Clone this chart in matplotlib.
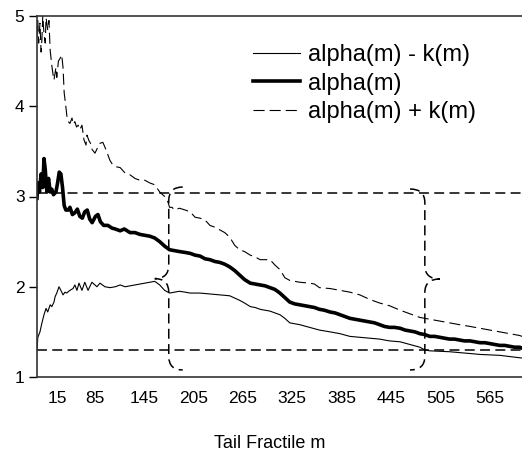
import matplotlib
matplotlib.use("Agg")
import matplotlib.pyplot as plt
from matplotlib.path import Path
from matplotlib.patches import PathPatch
from matplotlib.transforms import ScaledTranslation

plt.rcParams['font.family'] = ['Liberation Sans', 'DejaVu Sans']

# ---------------- data ----------------
alpha_m = [15, 16, 18, 20, 22, 23.5, 25, 27, 29, 31, 33, 35, 38, 40, 42, 44, 46, 48, 50, 53,
           55, 58, 61, 64, 67, 70, 73, 76, 79, 82, 86, 89, 92, 96, 101, 106, 110, 116, 121, 128,
           134, 140, 146, 152, 158, 164, 170, 176, 182, 188, 195, 201, 207, 213, 219, 225, 231,
           237, 243, 249, 255, 261, 267, 274, 280, 286, 292, 298, 304, 310, 316, 322, 328, 334,
           340, 346, 352, 358, 364, 371, 377, 383, 389, 395, 401, 407, 413, 419, 425, 431, 437,
           443, 449, 456, 462, 468, 474, 480, 486, 492, 498, 504, 510, 516, 522, 528, 534, 541,
           547, 553, 559, 565, 571, 577, 583, 589, 595, 601, 604]
alpha_v = [2.98, 3.15, 3.05, 3.25, 3.10, 3.42, 3.30, 3.05, 3.20, 3.05, 3.08, 3.02, 3.05, 3.15,
           3.27, 3.25, 3.10, 2.90, 2.85, 2.85, 2.88, 2.80, 2.82, 2.86, 2.78, 2.76, 2.83, 2.85,
           2.75, 2.71, 2.78, 2.80, 2.72, 2.68, 2.68, 2.65, 2.64, 2.62, 2.64, 2.60, 2.60, 2.58,
           2.57, 2.56, 2.54, 2.50, 2.45, 2.41, 2.40, 2.39, 2.38, 2.37, 2.35, 2.34, 2.31, 2.30,
           2.28, 2.27, 2.25, 2.22, 2.18, 2.13, 2.08, 2.04, 2.03, 2.02, 2.01, 1.99, 1.97, 1.93,
           1.88, 1.83, 1.81, 1.80, 1.79, 1.78, 1.77, 1.75, 1.74, 1.72, 1.71, 1.69, 1.67, 1.65,
           1.64, 1.63, 1.62, 1.61, 1.60, 1.58, 1.56, 1.55, 1.55, 1.54, 1.52, 1.51, 1.50, 1.48,
           1.47, 1.45, 1.45, 1.44, 1.43, 1.42, 1.42, 1.41, 1.40, 1.40, 1.39, 1.38, 1.38, 1.37,
           1.36, 1.35, 1.35, 1.34, 1.33, 1.33, 1.32]

upper_m = [15, 16, 17, 18.6, 20, 21, 22, 23.5, 25, 26, 28, 29.5, 31, 33, 34.5, 35.6, 38, 39, 41,
           43, 45, 46.6, 48, 50, 51.4, 53, 55, 57.5, 59, 61, 63, 65, 67, 69.6, 72, 74.5, 75.7,
           78, 80, 82, 85.4, 88, 91.5, 95, 98.7, 103.6, 107, 111, 116, 122, 128, 134, 140, 146,
           152, 158, 164, 170, 174, 176, 179, 182, 188, 195, 201, 207, 213, 219, 225, 231, 237,
           243, 249, 255, 261, 267, 274, 280, 286, 298, 304, 310, 316, 322, 334, 346, 352, 358,
           371, 383, 395, 407, 419, 431, 443, 456, 468, 480, 492, 504, 516, 528, 541, 553, 565,
           577, 589, 601, 604]
upper_v = [4.77, 4.95, 4.70, 4.92, 4.60, 4.75, 5.00, 4.80, 4.70, 4.98, 4.85, 4.95, 4.62, 4.45,
           4.35, 4.29, 4.43, 4.32, 4.50, 4.53, 4.57, 4.43, 4.15, 4.00, 3.88, 3.83, 3.81, 3.87,
           3.80, 3.83, 3.77, 3.79, 3.74, 3.79, 3.63, 3.57, 3.68, 3.62, 3.59, 3.52, 3.48, 3.53,
           3.59, 3.60, 3.52, 3.40, 3.35, 3.33, 3.32, 3.26, 3.24, 3.20, 3.18, 3.18, 3.15, 3.13,
           3.05, 3.00, 2.94, 2.88, 2.88, 2.85, 2.87, 2.85, 2.83, 2.77, 2.76, 2.74, 2.68, 2.66,
           2.63, 2.60, 2.55, 2.46, 2.41, 2.39, 2.35, 2.33, 2.30, 2.30, 2.24, 2.19, 2.10, 2.07,
           2.05, 2.04, 2.03, 1.99, 1.98, 1.96, 1.94, 1.91, 1.86, 1.82, 1.79, 1.74, 1.70, 1.66,
           1.64, 1.62, 1.60, 1.58, 1.56, 1.54, 1.52, 1.50, 1.48, 1.46, 1.45]

lower_m = [15, 16, 18.6, 21, 23.5, 26, 28, 31, 33, 35.6, 37, 39, 41.7, 44, 46.6, 49, 51, 55,
           58.7, 61, 63.5, 66, 69.6, 73, 77, 81.7, 87.8, 91.5, 97.5, 103.6, 110, 116, 122, 128,
           134, 140, 146, 152, 158, 164, 170, 176, 182, 188, 195, 201, 213, 225, 237, 249, 261,
           267, 274, 280, 286, 298, 304, 310, 316, 322, 334, 346, 358, 371, 383, 395, 407, 419,
           431, 443, 456, 468, 480, 486, 492, 516, 541, 553, 577, 604]
lower_v = [1.30, 1.44, 1.50, 1.60, 1.69, 1.76, 1.72, 1.80, 1.78, 1.83, 1.89, 1.93, 2.00, 1.96,
           1.91, 1.94, 1.93, 1.96, 1.98, 2.02, 1.96, 2.04, 1.96, 2.05, 1.96, 2.05, 2.00, 2.04,
           2.00, 1.99, 2.00, 2.02, 2.00, 2.01, 2.02, 2.03, 2.04, 2.05, 2.06, 2.02, 1.96, 1.93,
           1.94, 1.95, 1.94, 1.93, 1.93, 1.92, 1.91, 1.90, 1.85, 1.82, 1.78, 1.77, 1.75, 1.73,
           1.71, 1.69, 1.65, 1.60, 1.58, 1.55, 1.52, 1.50, 1.48, 1.45, 1.44, 1.43, 1.42, 1.40,
           1.39, 1.36, 1.33, 1.30, 1.29, 1.28, 1.26, 1.25, 1.24, 1.21]

hlines_y = [3.04, 1.30]
brace_left = dict(x=175, top=3.105, mid=2.09, bottom=1.078)
brace_right = dict(x=486, top=3.083, mid=2.086, bottom=1.078)

xtick_vals = [15, 85, 145, 205, 265, 325, 385, 445, 505, 565]
xtick_labels = [str(v) for v in xtick_vals]
ytick_vals = [1, 2, 3, 4, 5]

labels = ["alpha(m) - k(m)", "alpha(m)", "alpha(m) + k(m)"]

# ---------------- figure ----------------
fig = plt.figure(figsize=(5.22, 4.54), dpi=100)
ax = fig.add_axes([37 / 522, 77 / 454, 485 / 522, 361 / 454])

dash_style = (0, (6.5, 3.5))
l_low, = ax.plot(lower_m, lower_v, color='black', lw=0.8, solid_joinstyle='round')
l_mid, = ax.plot(alpha_m, alpha_v, color='black', lw=2.6, solid_joinstyle='round')
l_up, = ax.plot(upper_m, upper_v, color='black', lw=0.8, linestyle=(0, (10, 4.5)))

for yv in hlines_y:
    ax.axhline(yv, color='black', lw=1.1, linestyle=dash_style)


def brace(ax, x, top, mid, bottom, w, d, direction):
    # direction = +1 -> '{' (tip points left, hooks right); -1 -> '}'
    hx = x + direction * w     # hooks side
    tx = x - direction * w     # tip side
    verts = [(hx, top), (x, top), (x, top - d),
             (x, mid + d),
             (x, mid), (tx, mid),
             (x, mid), (x, mid - d),
             (x, bottom + d),
             (x, bottom), (hx, bottom)]
    codes = [Path.MOVETO, Path.CURVE3, Path.CURVE3,
             Path.LINETO,
             Path.CURVE3, Path.CURVE3,
             Path.CURVE3, Path.CURVE3,
             Path.LINETO,
             Path.CURVE3, Path.CURVE3]
    ax.add_patch(PathPatch(Path(verts, codes), fill=False, edgecolor='black',
                           lw=1.1, linestyle=dash_style))


brace(ax, brace_left['x'], brace_left['top'], brace_left['mid'], brace_left['bottom'],
      w=17, d=0.15, direction=+1)
brace(ax, brace_right['x'], brace_right['top'], brace_right['mid'], brace_right['bottom'],
      w=18, d=0.15, direction=-1)

ax.set_xlim(15, 604)
ax.set_ylim(1, 5)
ax.set_yticks(ytick_vals)
ax.set_xticks(xtick_vals)
ax.set_xticklabels(xtick_labels)
ax.tick_params(axis='y', direction='out', length=6, width=1, labelsize=12.5, pad=3)
ax.tick_params(axis='x', length=0, labelsize=12.5, pad=10)
# shift the first x label right as in the reference
first = ax.get_xticklabels()[0]
first.set_transform(first.get_transform() + ScaledTranslation(20 / 100, 0, fig.dpi_scale_trans))

for s in ['left', 'bottom', 'top']:
    ax.spines[s].set_color('#333333')
    ax.spines[s].set_linewidth(1.2)
ax.spines['right'].set_visible(False)

fig.text(270 / 522, 1 - 443 / 454, "Tail Fractile m", ha='center', va='center', fontsize=13)

leg = ax.legend([l_low, l_mid, l_up], labels, loc='upper left',
                bbox_to_anchor=(253 / 522, 1 - 44 / 454), bbox_transform=fig.transFigure,
                frameon=False, fontsize=17, handlelength=2.0, handletextpad=0.33,
                labelspacing=0.28, borderpad=0, borderaxespad=0)

fig.savefig("out.png", dpi=100)
